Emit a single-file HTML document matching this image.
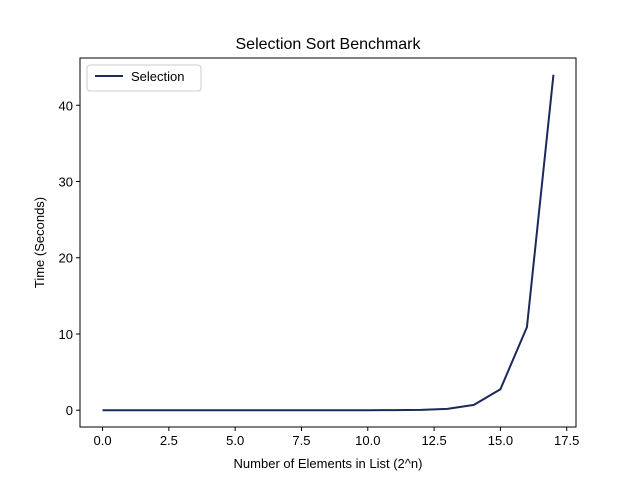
<!DOCTYPE html>
<html><head><meta charset="utf-8"><style>
body{margin:0;background:#fff;}
text{font-family:"Liberation Sans","DejaVu Sans",sans-serif;fill:#000;}
</style></head><body>
<svg id="chart" width="640" height="480" xmlns="http://www.w3.org/2000/svg">
<rect width="640" height="480" fill="#fff"/>
<text x="328" y="49" font-size="16" text-anchor="middle">Selection Sort Benchmark</text>
<text x="328" y="468" font-size="13" text-anchor="middle">Number of Elements in List (2^n)</text>
<text transform="translate(44,242.5) rotate(-90)" font-size="13" text-anchor="middle">Time (Seconds)</text>
<g id="ticks"></g>
<path id="line" fill="none" stroke="#1b2a5c" stroke-width="2"/>
<rect x="80" y="58" width="496" height="369" fill="none" stroke="#000" stroke-width="1"/>
<g>
<rect x="87" y="65" width="114" height="26" rx="3" fill="#fff" stroke="#ccc"/>
<line x1="95" y1="76" x2="123" y2="76" stroke="#1b2a5c" stroke-width="2"/>
<text x="131" y="81" font-size="13">Selection</text>
</g>
</svg>
<script>
const xs=[0,1,2,3,4,5,6,7,8,9,10,11,12,13,14,15,16,17];
const times=[0,0,0,0,0,0,0,0,0.001,0.002,0.004,0.012,0.045,0.18,0.7,2.75,10.9,44.0];
const xTicks=[0,2.5,5,7.5,10,12.5,15,17.5];
const xTickLabels=["0.0","2.5","5.0","7.5","10.0","12.5","15.0","17.5"];
const yTicks=[0,10,20,30,40];
const L=80,R=576,T=58,B=427;
const xmin=-0.85,xmax=17.85,ymax=Math.max(...times)*1.05,ymin=-Math.max(...times)*0.05;
const sx=v=>L+(v-xmin)/(xmax-xmin)*(R-L);
const sy=v=>B-(v-ymin)/(ymax-ymin)*(B-T);
const ns="http://www.w3.org/2000/svg";
const g=document.getElementById('ticks');
xTicks.forEach((v,i)=>{
 const l=document.createElementNS(ns,'line');
 l.setAttribute('x1',sx(v));l.setAttribute('x2',sx(v));l.setAttribute('y1',B);l.setAttribute('y2',B+4);l.setAttribute('stroke','#000');
 
 
 g.appendChild(l);
 const t=document.createElementNS(ns,'text');
 t.setAttribute('x',sx(v));t.setAttribute('y',B+18);t.setAttribute('font-size','13');t.setAttribute('text-anchor','middle');
 t.textContent=xTickLabels[i];
 
 
 g.appendChild(t);
});
yTicks.forEach(v=>{
 const l=document.createElementNS(ns,'line');
 l.setAttribute('x1',L-4);l.setAttribute('x2',L);l.setAttribute('y1',sy(v));l.setAttribute('y2',sy(v));l.setAttribute('stroke','#000');
 
 
 g.appendChild(l);
 const t=document.createElementNS(ns,'text');
 t.setAttribute('x',L-7);t.setAttribute('y',sy(v)+5);t.setAttribute('font-size','13');t.setAttribute('text-anchor','end');
 t.textContent=v;
 
 
 g.appendChild(t);
});
document.getElementById('line').setAttribute('d',xs.map((x,i)=>(i?'L':'M')+sx(x)+' '+sy(times[i])).join(' '));
</script>
</body></html>
